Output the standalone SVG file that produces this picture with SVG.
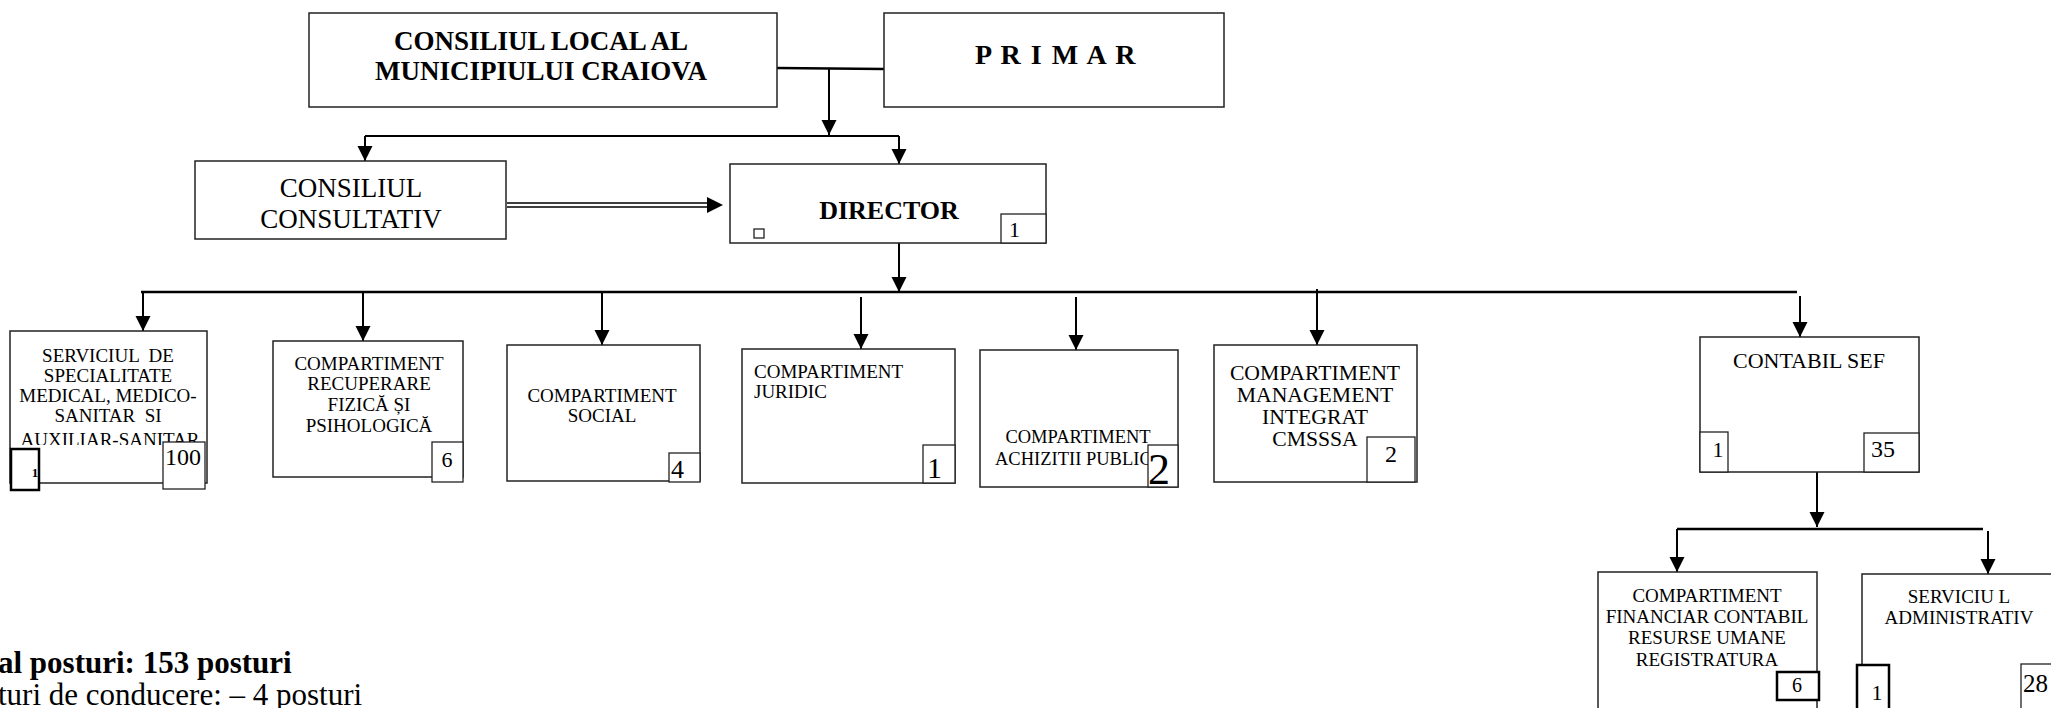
<svg xmlns="http://www.w3.org/2000/svg" width="2051" height="708" viewBox="0 0 2051 708">
<style>
.box{fill:#fff;stroke:#222;stroke-width:1.5}
.cnt{fill:#fff;stroke:#222;stroke-width:1.3}
.thick{fill:#fff;stroke:#000;stroke-width:2.5}
text{font-family:"Liberation Serif","Times New Roman",serif;fill:#000}
.lbl{font-size:19px;text-anchor:middle;white-space:pre}
.num{font-size:22px}
.b{font-weight:bold}
.ln{stroke:#000;stroke-width:2;fill:none}
.ln2{stroke:#000;stroke-width:2.5;fill:none}
.arr{stroke:#000;stroke-width:2;fill:none;marker-end:url(#ah)}
</style>
<defs>
<marker id="ah" markerUnits="userSpaceOnUse" markerWidth="15" markerHeight="16" refX="15" refY="7.5" orient="auto">
<path d="M0,0 L15,7.5 L0,15 z" fill="#000"/>
</marker>
<clipPath id="clipServ"><rect x="10" y="331" width="197" height="114"/></clipPath>
</defs>
<rect width="2051" height="708" fill="#fff"/>

<g id="connectors">
<path class="ln2" d="M777,68 L884,69"/>
<path class="arr" d="M829,68 V135"/>
<path class="ln" d="M365,136 H899"/>
<path class="arr" d="M365,136 V161"/>
<path class="arr" d="M899,136 V164"/>
<path class="ln" style="stroke-width:1.6" d="M507,203 H710 M507,207 H710"/>
<polygon points="707,197 723,205 707,213" fill="#000"/>
<path class="arr" d="M899,243 V292"/>
<path class="ln2" d="M141,292 H1797"/>
<path class="arr" d="M143,292 V331"/>
<path class="arr" d="M363,292 V341"/>
<path class="arr" d="M602,292 V345"/>
<path class="arr" d="M861,297 V349"/>
<path class="arr" d="M1076,297 V350"/>
<path class="arr" d="M1317,289 V345"/>
<path class="arr" d="M1800,296 V337"/>
<path class="arr" d="M1817,472 V527"/>
<path class="ln2" d="M1677,529 H1983"/>
<path class="arr" d="M1677,529 V572"/>
<path class="arr" d="M1988,531 V574"/>
</g>

<g id="consiliul-local">
<rect class="box" x="309" y="13" width="468" height="94"/>
<text class="b" x="541" y="50" font-size="27" text-anchor="middle">CONSILIUL LOCAL AL</text>
<text class="b" x="541" y="80" font-size="27" text-anchor="middle">MUNICIPIULUI CRAIOVA</text>
</g>

<g id="primar">
<rect class="box" x="884" y="13" width="340" height="94"/>
<text class="b" x="1056" y="64" font-size="28" letter-spacing="1.5" text-anchor="middle">P R I M A R</text>
</g>

<g id="consiliul-consultativ">
<rect class="box" x="195" y="161" width="311" height="78"/>
<text x="351" y="197" font-size="27" text-anchor="middle">CONSILIUL</text>
<text x="351" y="228" font-size="27" text-anchor="middle">CONSULTATIV</text>
</g>

<g id="director">
<rect class="box" x="730" y="164" width="316" height="79"/>
<text class="b" x="889" y="219" font-size="26" text-anchor="middle">DIRECTOR</text>
<rect class="cnt" x="754" y="229" width="10" height="9"/>
<rect class="cnt" x="1001" y="214" width="45" height="29"/>
<text class="num" x="1009" y="237">1</text>
</g>

<g id="serviciul-specialitate">
<rect class="box" x="10" y="331" width="197" height="152"/>
<g clip-path="url(#clipServ)">
<text class="lbl" x="108" y="362" font-size="19.5">SERVICIUL  DE</text>
<text class="lbl" x="108" y="382" font-size="19.5">SPECIALITATE</text>
<text class="lbl" x="108" y="402" font-size="19.5">MEDICAL, MEDICO-</text>
<text class="lbl" x="108" y="422" font-size="19.5">SANITAR  SI</text>
<text class="lbl" x="110" y="446" font-size="19.5">AUXILIAR-SANITAR</text>
</g>
<rect class="thick" x="11" y="449" width="28" height="41"/>
<text x="35" y="477" font-family="'Liberation Sans',Arial,sans-serif" font-weight="bold" font-size="13" text-anchor="middle">1</text>
<rect class="cnt" x="163" y="442" width="42" height="47"/>
<text x="165" y="465" font-size="24">100</text>
</g>

<g id="compartiment-recuperare">
<rect class="box" x="273" y="341" width="190" height="136"/>
<text class="lbl" x="369" y="370">COMPARTIMENT</text>
<text class="lbl" x="369" y="390">RECUPERARE</text>
<text class="lbl" x="369" y="411">FIZICĂ ȘI</text>
<text class="lbl" x="369" y="432">PSIHOLOGICĂ</text>
<rect class="cnt" x="432" y="442" width="31" height="40"/>
<text class="num" x="447" y="467" text-anchor="middle">6</text>
</g>

<g id="compartiment-social">
<rect class="box" x="507" y="345" width="193" height="136"/>
<text class="lbl" x="602" y="402">COMPARTIMENT</text>
<text class="lbl" x="602" y="422">SOCIAL</text>
<rect class="cnt" x="669" y="453" width="31" height="29"/>
<text x="671" y="478" font-size="26">4</text>
</g>

<g id="compartiment-juridic">
<rect class="box" x="742" y="349" width="213" height="134"/>
<text x="754" y="378" font-size="19">COMPARTIMENT</text>
<text x="754" y="398" font-size="19">JURIDIC</text>
<rect class="cnt" x="923" y="445" width="32" height="38"/>
<text x="927" y="478" font-size="30">1</text>
</g>

<g id="compartiment-achizitii">
<rect class="box" x="980" y="350" width="198" height="137"/>
<text x="1078" y="443" font-size="18.5" text-anchor="middle">COMPARTIMENT</text>
<text x="995" y="465" font-size="18.5">ACHIZITII PUBLIC</text>
<rect class="cnt" x="1148" y="445" width="30" height="42"/>
<text x="1148" y="484" font-size="44">2</text>
</g>

<g id="compartiment-management">
<rect class="box" x="1214" y="345" width="203" height="137"/>
<text x="1315" y="380" font-size="21.7" text-anchor="middle">COMPARTIMENT</text>
<text x="1315" y="402" font-size="21.7" text-anchor="middle">MANAGEMENT</text>
<text x="1315" y="424" font-size="21.7" text-anchor="middle">INTEGRAT</text>
<text x="1315" y="446" font-size="21.7" text-anchor="middle">CMSSSA</text>
<rect class="cnt" x="1367" y="437" width="48" height="45"/>
<text x="1391" y="462" font-size="24" text-anchor="middle">2</text>
</g>

<g id="contabil-sef">
<rect class="box" x="1700" y="337" width="219" height="135"/>
<text x="1809" y="368" font-size="22" text-anchor="middle">CONTABIL SEF</text>
<rect class="cnt" x="1700" y="432" width="28" height="40"/>
<text class="num" x="1718" y="457" text-anchor="middle">1</text>
<rect class="cnt" x="1864" y="433" width="55" height="39"/>
<text x="1871" y="457" font-size="24">35</text>
</g>

<g id="compartiment-financiar">
<rect class="box" x="1598" y="572" width="219" height="150"/>
<text class="lbl" x="1707" y="602" font-size="19.2">COMPARTIMENT</text>
<text class="lbl" x="1707" y="623" font-size="19.2">FINANCIAR CONTABIL</text>
<text class="lbl" x="1707" y="644" font-size="19.2">RESURSE UMANE</text>
<text class="lbl" x="1707" y="666" font-size="19.2">REGISTRATURA</text>
<rect class="thick" x="1777" y="672" width="42" height="28"/>
<text x="1797" y="692" font-size="20" text-anchor="middle">6</text>
</g>

<g id="serviciul-administrativ">
<rect class="box" x="1862" y="574" width="200" height="150"/>
<text class="lbl" x="1959" y="603">SERVICIU L</text>
<text class="lbl" x="1959" y="624">ADMINISTRATIV</text>
<rect class="thick" x="1857" y="665" width="32" height="60"/>
<text class="num" x="1877" y="700" text-anchor="middle">1</text>
<rect class="cnt" x="2021" y="664" width="50" height="60"/>
<text x="2023" y="692" font-size="25">28</text>
</g>

<g id="totals">
<text class="b" x="-2" y="673" font-size="31">al posturi: 153 posturi</text>
<text x="-2" y="705" font-size="31">turi de conducere: – 4 posturi</text>
</g>
</svg>
